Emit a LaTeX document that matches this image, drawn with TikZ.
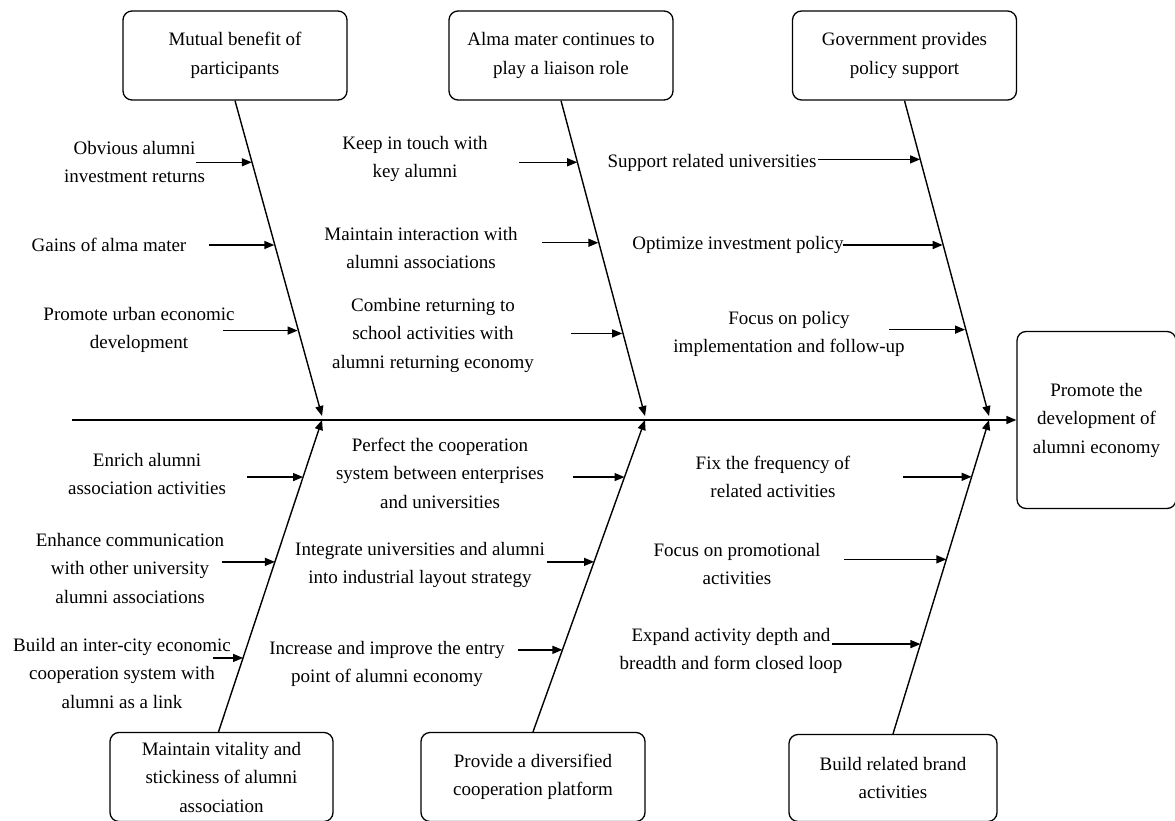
\documentclass[tikz,border=0pt]{standalone}
\usepackage{fontspec}
\setmainfont{Liberation Serif}
\usetikzlibrary{arrows.meta,calc}
\tikzset{
  >={Triangle[length=10pt,width=8pt]},
  cause/.style={draw, line width=1.3pt, rounded corners=9pt, minimum width=224pt, minimum height=89pt, align=center, inner sep=2pt},
  item/.style={align=center, inner sep=0pt},
  bone/.style={line width=1.4pt},
}
\begin{document}
\begin{tikzpicture}[x=1pt, y=-1pt, font=\fontsize{19}{28.5}\selectfont]
    \useasboundingbox (0,0) rectangle (1175,821);
    % head and spine
    \node[cause, minimum width=159pt, minimum height=177pt] (eco) at (1096.5,420) {Promote the\\development of\\alumni economy};
    \coordinate (tail) at (72,420);
    \coordinate (j1) at (322,420);
    \coordinate (j2) at (645,420);
    \coordinate (j3) at (989,420);
    \draw[bone, ->] (tail) -- (eco.west);
    % causes
    \node[cause] (pb) at (235,55.5) {Mutual benefit of\\participants};
    \node[cause] (am) at (561,55.5) {Alma mater continues to\\play a liaison role};
    \node[cause] (gov) at (904.5,55.5) {Government provides\\policy support};
    \node[cause, minimum width=223pt] (va) at (221.5,777) {Maintain vitality and\\stickiness of alumni\\association};
    \node[cause] (pf) at (533,777) {Provide a diversified\\cooperation platform};
    \node[cause, minimum width=208pt, minimum height=87pt] (br) at (893,778) {Build related brand\\activities};
    \draw[bone, ->] (pb.south) -- ([yshift=4pt]j1);
    \draw[bone, ->] (am.south) -- ([yshift=4pt]j2);
    \draw[bone, ->] (gov.south) -- ([yshift=4pt]j3);
    \draw[bone, ->] ([xshift=-3pt]va.north) -- (j1);
    \draw[bone, ->] (pf.north) -- (j2);
    \draw[bone, ->] (br.north) -- (j3);
    % sub-causes, top
    \node[item] (l11) at (134.5,162) {Obvious alumni\\investment returns};
    \node[item] (l12) at (109,245) {Gains of alma mater};
    \node[item] (l13) at (139,330) {Promote urban economic\\development};
    \node[item] (l21) at (415,159) {Keep in touch with\\key alumni};
    \node[item] (l22) at (421,248) {Maintain interaction with\\alumni associations};
    \node[item] (l23) at (433,335) {Combine returning to\\school activities with\\alumni returning economy};
    \node[item] (l31) at (712,163) {Support related universities};
    \node[item] (l32) at (738,245) {Optimize investment policy};
    \node[item] (l33) at (789,334) {Focus on policy\\implementation and follow-up};
    \coordinate (e11) at ($(pb.south)!0.193!(j1)$);
    \coordinate (e12) at ($(pb.south)!0.452!(j1)$);
    \coordinate (e13) at ($(pb.south)!0.720!(j1)$);
    \coordinate (e21) at ($(am.south)!0.193!(j2)$);
    \coordinate (e22) at ($(am.south)!0.445!(j2)$);
    \coordinate (e23) at ($(am.south)!0.729!(j2)$);
    \coordinate (e31) at ($(gov.south)!0.184!(j3)$);
    \coordinate (e32) at ($(gov.south)!0.452!(j3)$);
    \coordinate (e33) at ($(gov.south)!0.717!(j3)$);
    \draw[bone, ->] ([xshift=-56pt]e11) -- (e11);
    \draw[bone, ->] ([xshift=-65pt]e12) -- (e12);
    \draw[bone, ->] ([xshift=-75pt]e13) -- (e13);
    \draw[bone, ->] ([xshift=-58pt]e21) -- (e21);
    \draw[bone, ->] ([xshift=-56pt]e22) -- (e22);
    \draw[bone, ->] ([xshift=-51pt]e23) -- (e23);
    \draw[bone, ->] ([xshift=-102pt]e31) -- (e31);
    \draw[bone, ->] ([xshift=-100pt]e32) -- (e32);
    \draw[bone, ->] ([xshift=-76pt]e33) -- (e33);
    % sub-causes, bottom
    \node[item] (l41) at (147,474) {Enrich alumni\\association activities};
    \node[item] (l42) at (130,568) {Enhance communication\\with other university\\alumni associations};
    \node[item] (l43) at (122,673) {Build an inter-city economic\\cooperation system with\\alumni as a link};
    \node[item] (l51) at (440,473) {Perfect the cooperation\\system between enterprises\\and universities};
    \node[item] (l52) at (420,565) {Integrate universities and alumni\\into industrial layout strategy};
    \node[item] (l53) at (387,664) {Increase and improve the entry\\point of alumni economy};
    \node[item] (l61) at (773,477) {Fix the frequency of\\related activities};
    \node[item] (l62) at (737,564) {Focus on promotional\\activities};
    \node[item] (l63) at (731,651) {Expand activity depth and\\breadth and form closed loop};
    \coordinate (e41) at ($([xshift=-3pt]va.north)!0.817!(j1)$);
    \coordinate (e42) at ($([xshift=-3pt]va.north)!0.545!(j1)$);
    \coordinate (e43) at ($([xshift=-3pt]va.north)!0.237!(j1)$);
    \coordinate (e51) at ($(pf.north)!0.817!(j2)$);
    \coordinate (e52) at ($(pf.north)!0.545!(j2)$);
    \coordinate (e53) at ($(pf.north)!0.263!(j2)$);
    \coordinate (e61) at ($(br.north)!0.819!(j3)$);
    \coordinate (e62) at ($(br.north)!0.556!(j3)$);
    \coordinate (e63) at ($(br.north)!0.286!(j3)$);
    \draw[bone, ->] ([xshift=-56pt]e41) -- (e41);
    \draw[bone, ->] ([xshift=-53pt]e42) -- (e42);
    \draw[bone, ->] ([xshift=-30pt]e43) -- (e43);
    \draw[bone, ->] ([xshift=-52pt]e51) -- (e51);
    \draw[bone, ->] ([xshift=-47pt]e52) -- (e52);
    \draw[bone, ->] ([xshift=-44pt]e53) -- (e53);
    \draw[bone, ->] ([xshift=-69pt]e61) -- (e61);
    \draw[bone, ->] ([xshift=-102pt]e62) -- (e62);
    \draw[bone, ->] ([xshift=-88pt]e63) -- (e63);
\end{tikzpicture}
\end{document}
